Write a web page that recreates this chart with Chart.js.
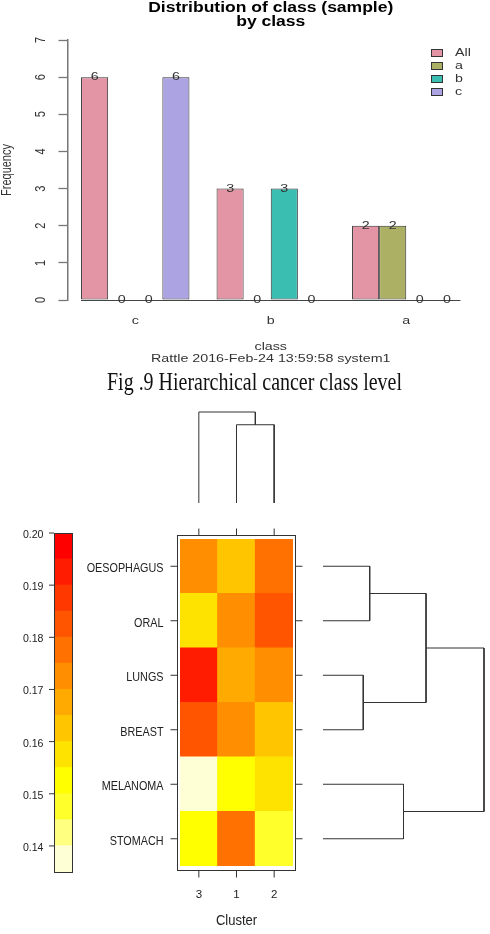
<!DOCTYPE html>
<html><head><meta charset="utf-8">
<script src="https://cdn.jsdelivr.net/npm/chart.js@4.4.1/dist/chart.umd.min.js"></script>
<style>
html,body{margin:0;padding:0;background:#fff;}
#wrap{position:relative;width:490px;height:934px;overflow:hidden;background:#fff;}
#wrap canvas{position:absolute;left:0;top:0;}
#caption{position:absolute;left:0;top:369px;width:490px;text-align:center;font-family:"Liberation Serif","DejaVu Serif",serif;font-size:25px;line-height:25px;color:#111;white-space:nowrap;transform-origin:245px 50%;}
</style></head>
<body><div id="wrap">
<canvas id="cBar" width="490" height="934"></canvas>
<canvas id="cKey" width="490" height="934"></canvas>
<canvas id="cHeat" width="490" height="934"></canvas>
<canvas id="cColDen" width="490" height="934"></canvas>
<canvas id="cRowDen" width="490" height="934"></canvas>
<div id="caption">Fig .9 Hierarchical cancer class level</div>
</div>
<script>
// ---------------- data ----------------
const barTitle = ["Distribution of class (sample)", "by class"];
const barCategories = ["c", "b", "a"];
const barSeriesNames = ["All", "a", "b", "c"];
const barAll = [6, 3, 2];
const barA = [0, 0, 2];
const barB = [0, 3, 0];
const barC = [6, 0, 0];
const barYTicks = [0, 1, 2, 3, 4, 5, 6, 7];
const barXTitle = "class";
const barYTitle = "Frequency";
const barSubtitle = "Rattle 2016-Feb-24 13:59:58 system1";

const heatRows = ["OESOPHAGUS", "ORAL", "LUNGS", "BREAST", "MELANOMA", "STOMACH"];
const heatCols = ["3", "1", "2"];
const valOesophagus = [0.1725, 0.1625, 0.1775];
const valOral       = [0.1575, 0.1725, 0.1825];
const valLungs      = [0.1925, 0.1675, 0.1725];
const valBreast     = [0.1825, 0.1725, 0.1625];
const valMelanoma   = [0.1375, 0.1525, 0.1575];
const valStomach    = [0.1525, 0.1775, 0.1475];
const heatXTitle = "Cluster";

const keyBreaks = [0.135, 0.14, 0.145, 0.15, 0.155, 0.16, 0.165, 0.17, 0.175, 0.18, 0.185, 0.19, 0.195, 0.20];
const keyTicks = [0.14, 0.15, 0.16, 0.17, 0.18, 0.19, 0.20];

// dendrograms: negative = leaf (1-based, display order), positive = earlier merge (1-based)
const colMerges = [[-2, -3], [-1, 1]];
const colHeights = [0.86, 1.0];
const rowMerges = [[-1, -2], [-3, -4], [1, 2], [-5, -6], [3, 4]];
const rowHeights = [0.29, 0.25, 0.64, 0.50, 1.0];

// ---------------- styles ----------------
const barColors = ["#E495A5", "#ABB065", "#39BEB1", "#ACA4E2"];
const keyColors = ["#FFFFD5", "#FFFF80", "#FFFF2B", "#FFFF00", "#FFE300", "#FFC600", "#FFAA00",
                   "#FF8E00", "#FF7100", "#FF5500", "#FF3800", "#FF1C00", "#FF0000"];
const SANS = '"Liberation Sans", Arial, sans-serif';
const W = 490, H = 934;
function pad(l, t, r, b) { return { left: l, top: t, right: W - r, bottom: H - b }; }

function txt(ctx, s, x, y, size, o) {
  o = o || {};
  ctx.save();
  ctx.translate(x, y);
  ctx.scale(o.sx || 1, 1);
  if (o.rot) ctx.rotate(o.rot);
  ctx.font = (o.bold ? 'bold ' : '') + size + 'px ' + SANS;
  ctx.fillStyle = o.color || '#222';
  ctx.textAlign = o.align || 'left';
  ctx.textBaseline = o.baseline || 'alphabetic';
  ctx.fillText(s, 0, 0);
  ctx.restore();
}
function seg(ctx, x1, y1, x2, y2, color, w) {
  ctx.save();
  ctx.strokeStyle = color || '#333';
  ctx.lineWidth = w || 1;
  ctx.beginPath(); ctx.moveTo(x1, y1); ctx.lineTo(x2, y2); ctx.stroke();
  ctx.restore();
}
const common = { responsive: false, animation: false, devicePixelRatio: 1,
  plugins: { legend: { display: false }, tooltip: { enabled: false }, title: { display: false } },
  events: [] };

// ---------------- bar chart ----------------
const barSeries = [barAll, barA, barB, barC];
const barDeco = {
  id: 'barDeco',
  afterDatasetsDraw(chart) {
    const ctx = chart.ctx, ca = chart.chartArea, xs = chart.scales.x, ys = chart.scales.y;
    const cx = (ca.left + ca.right) / 2;
    const TS = 11.5, SX = 1.24;
    // baseline under bars
    const m0 = chart.getDatasetMeta(0), mL = chart.getDatasetMeta(chart.data.datasets.length - 1);
    const x0 = m0.data[0].x - m0.data[0].width / 2;
    const last = mL.data[mL.data.length - 1];
    const x1 = last.x + last.width / 2;
    seg(ctx, x0, ys.getPixelForValue(0) + 0.5, x1, ys.getPixelForValue(0) + 0.5, '#444', 1);
    // value labels
    chart.data.datasets.forEach((ds, di) => {
      chart.getDatasetMeta(di).data.forEach((el, i) => {
        txt(ctx, String(ds.data[i]), el.x, el.y, TS, { sx: SX, align: 'center', baseline: 'middle', color: '#333' });
      });
    });
    // title
    txt(ctx, barTitle[0], cx, 12, 14, { sx: 1.25, bold: true, align: 'center', color: '#000' });
    txt(ctx, barTitle[1], cx, 25.5, 14, { sx: 1.25, bold: true, align: 'center', color: '#000' });
    // y tick labels (rotated)
    barYTicks.forEach(v => {
      txt(ctx, String(v), 45, ys.getPixelForValue(v), 11, { sx: 1.25, rot: -Math.PI / 2, align: 'center', color: '#333' });
    });
    txt(ctx, barYTitle, 10.5, (ca.top + ca.bottom) / 2, 11, { sx: 1.25, rot: -Math.PI / 2, align: 'center', color: '#333' });
    // category labels
    barCategories.forEach((c, i) => {
      txt(ctx, c, xs.getPixelForValue(i), 324, TS, { sx: SX, align: 'center', color: '#333' });
    });
    txt(ctx, barXTitle, cx, 349.5, TS, { sx: SX, align: 'center', color: '#333' });
    txt(ctx, barSubtitle, cx, 362, TS, { sx: SX, align: 'center', color: '#333' });
    // legend
    chart.data.datasets.forEach((ds, i) => {
      const y = 53 + i * 13;
      ctx.save();
      ctx.fillStyle = ds.backgroundColor; ctx.strokeStyle = '#333'; ctx.lineWidth = 1;
      ctx.fillRect(431, y - 4, 12, 8); ctx.strokeRect(431.5, y - 3.5, 11, 7);
      ctx.restore();
      txt(ctx, ds.label, 455, y, TS, { sx: SX, baseline: 'middle', color: '#333' });
    });
  }
};
new Chart(document.getElementById('cBar'), {
  type: 'bar',
  data: {
    labels: barCategories,
    datasets: barSeriesNames.map((n, i) => ({
      label: n, data: barSeries[i], backgroundColor: barColors[i], borderColor: '#333',
      borderWidth: 1, borderSkipped: false, barPercentage: 1, categoryPercentage: 0.8
    }))
  },
  options: Object.assign({}, common, {
    layout: { padding: pad(58.5, 40, 474, 300) },
    scales: {
      x: { display: false, offset: true },
      y: { min: 0, max: 7, afterBuildTicks: s => { s.ticks = barYTicks.map(v => ({ value: v })); },
           ticks: { display: false },
           grid: { drawOnChartArea: false, drawTicks: true, tickLength: 9, tickColor: '#777', tickWidth: 1.3 },
           border: { display: true, color: '#777', width: 1.5 } }
    }
  }),
  plugins: [barDeco]
});

// ---------------- colour key ----------------
function bandOf(v) {
  for (let k = 0; k < keyBreaks.length - 1; k++) if (v >= keyBreaks[k] && v < keyBreaks[k + 1]) return k;
  return v < keyBreaks[0] ? 0 : keyColors.length - 1;
}
const keyDeco = {
  id: 'keyDeco',
  afterDatasetsDraw(chart) {
    const ctx = chart.ctx, ca = chart.chartArea, ys = chart.scales.y;
    ctx.save(); ctx.strokeStyle = '#333'; ctx.lineWidth = 1;
    ctx.strokeRect(Math.round(ca.left) + 0.5, Math.round(ca.top) + 0.5, Math.round(ca.right - ca.left) - 1, Math.round(ca.bottom - ca.top));
    ctx.restore();
    keyTicks.forEach(v => {
      const y = ys.getPixelForValue(v);
      seg(ctx, ca.left - 5, y, ca.left, y, '#333', 1);
      txt(ctx, v.toFixed(2), 43.5, y + 5, 11.5, { sx: 0.92, align: 'right', color: '#222' });
    });
  }
};
new Chart(document.getElementById('cKey'), {
  type: 'bar',
  data: {
    labels: ['key'],
    datasets: keyColors.map((c, k) => ({
      data: [[keyBreaks[k], keyBreaks[k + 1]]], backgroundColor: c, borderWidth: 0,
      grouped: false, barPercentage: 1, categoryPercentage: 1, inflateAmount: 0.5
    }))
  },
  options: Object.assign({}, common, {
    layout: { padding: pad(54, 533, 73, 872) },
    scales: { x: { display: false }, y: { display: false, min: keyBreaks[0], max: keyBreaks[keyBreaks.length - 1] } }
  }),
  plugins: [keyDeco]
});

// ---------------- heatmap ----------------
const heatRowValues = [valOesophagus, valOral, valLungs, valBreast, valMelanoma, valStomach];
const heatDeco = {
  id: 'heatDeco',
  afterDatasetsDraw(chart) {
    const ctx = chart.ctx, ca = chart.chartArea, xs = chart.scales.x, ys = chart.scales.y;
    const fl = Math.round(ca.left) - 3 + 0.5, fr = Math.round(ca.right) + 3 - 0.5;
    const ft = Math.round(ca.top) - 4 + 0.5, fb = Math.round(ca.bottom) + 5 - 0.5;
    ctx.save(); ctx.strokeStyle = '#333'; ctx.lineWidth = 1;
    ctx.strokeRect(fl, ft, fr - fl, fb - ft); ctx.restore();
    heatCols.forEach((c, j) => {
      const x = xs.getPixelForValue(j);
      seg(ctx, x, ft - 7, x, ft, '#333', 1);
      seg(ctx, x, fb, x, fb + 7, '#333', 1);
      txt(ctx, c, x, 898, 11.5, { align: 'center', color: '#222' });
    });
    heatRows.forEach((r, i) => {
      const y = ys.getPixelForValue(heatRows.length - 0.5 - i);
      seg(ctx, fl - 7, y, fl, y, '#333', 1);
      seg(ctx, fr, y, fr + 7, y, '#333', 1);
      txt(ctx, r, 163.5, y + 5.8, 13.5, { sx: 0.8, align: 'right', color: '#222' });
    });
    txt(ctx, heatXTitle, (ca.left + ca.right) / 2, 925, 14, { sx: 0.93, align: 'center', color: '#222' });
  }
};
const rowsBottomUp = heatRows.map((r, i) => i).reverse();
new Chart(document.getElementById('cHeat'), {
  type: 'bar',
  data: {
    labels: heatCols,
    datasets: rowsBottomUp.map(i => ({
      label: heatRows[i], data: heatCols.map(() => 1),
      backgroundColor: heatRowValues[i].map(v => keyColors[bandOf(v)]),
      borderWidth: 0, barPercentage: 1, categoryPercentage: 1, inflateAmount: 0.5
    }))
  },
  options: Object.assign({}, common, {
    layout: { padding: pad(180, 539, 293, 866) },
    scales: { x: { display: false, stacked: true }, y: { display: false, stacked: true, min: 0, max: heatRows.length } }
  }),
  plugins: [heatDeco]
});

// ---------------- dendrograms ----------------
function dendroPolylines(merges, heights, leafPos) {
  const pos = [], lines = [];
  const child = c => c < 0 ? { p: leafPos(-c - 1), h: 0 } : { p: pos[c - 1], h: heights[c - 1] };
  merges.forEach((m, k) => {
    const a = child(m[0]), b = child(m[1]), h = heights[k];
    pos[k] = (a.p + b.p) / 2;
    lines.push([{ p: a.p, h: a.h }, { p: a.p, h: h }, { p: b.p, h: h }, { p: b.p, h: b.h }]);
  });
  return lines;
}
const denLine = { showLine: true, pointRadius: 0, borderColor: '#333', borderWidth: 1, clip: false, tension: 0, fill: false };

const colLines = dendroPolylines(colMerges, colHeights, j => j);
new Chart(document.getElementById('cColDen'), {
  type: 'scatter',
  data: { datasets: colLines.map(l => Object.assign({ data: l.map(q => ({ x: q.p, y: q.h })) }, denLine)) },
  options: Object.assign({}, common, {
    layout: { padding: pad(180, 412, 293, 503) },
    scales: { x: { display: false, min: -0.5, max: heatCols.length - 0.5 },
              y: { display: false, min: 0, max: Math.max(...colHeights) } }
  })
});

const rowLines = dendroPolylines(rowMerges, rowHeights, i => heatRows.length - 0.5 - i);
new Chart(document.getElementById('cRowDen'), {
  type: 'scatter',
  data: { datasets: rowLines.map(l => Object.assign({ data: l.map(q => ({ x: q.h, y: q.p })) }, denLine)) },
  options: Object.assign({}, common, {
    layout: { padding: pad(323, 539, 484, 866) },
    scales: { x: { display: false, min: 0, max: Math.max(...rowHeights) },
              y: { display: false, min: 0, max: heatRows.length } }
  })
});

// ---------------- caption ----------------
(function () {
  const cap = document.getElementById('caption');
  const c = document.createElement('canvas').getContext('2d');
  c.font = '25px "Liberation Serif"';
  const w = c.measureText(cap.textContent).width;
  const s = 295 / w;
  cap.style.transform = 'translateX(9.5px) scaleX(' + s.toFixed(4) + ')';
})();
</script>
</body></html>
